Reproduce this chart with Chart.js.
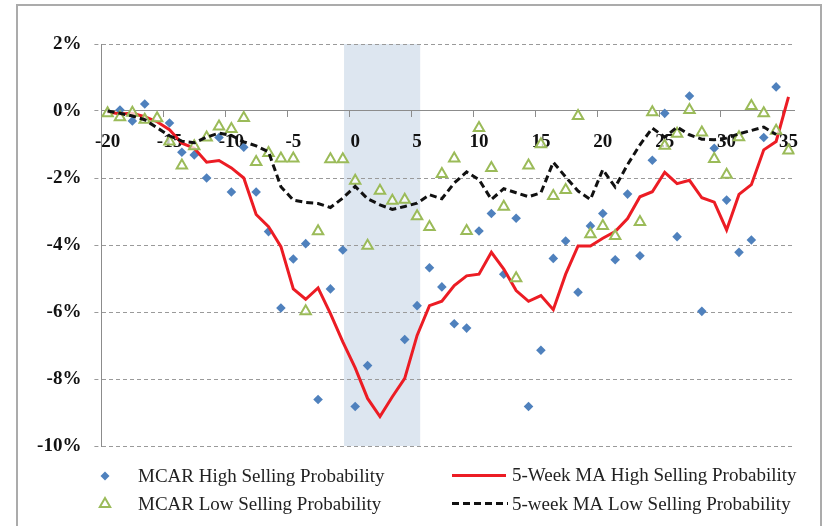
<!DOCTYPE html>
<html>
<head>
<meta charset="utf-8">
<script src="https://cdn.jsdelivr.net/npm/chart.js@4.4.1/dist/chart.umd.min.js"></script>
<style>
  html, body { margin: 0; padding: 0; background: #fff; }
  #wrap { width: 823px; height: 526px; }
</style>
</head>
<body>
<div id="wrap"><canvas id="myChart" width="823" height="526"></canvas></div>
<script>
// weeks relative to the event
const weeks = [-20, -19, -18, -17, -16, -15, -14, -13, -12, -11, -10, -9, -8, -7, -6, -5, -4, -3, -2, -1,
    0, 1, 2, 3, 4, 5, 6, 7, 8, 9, 10, 11, 12, 13, 14, 15, 16, 17, 18, 19,
    20, 21, 22, 23, 24, 25, 26, 27, 28, 29, 30, 31, 32, 33, 34, 35]

// values in %
const mcarHigh = [null, 0.03, -0.30, 0.21, null, -0.36, -1.23, -1.31, -2.00, -0.79, -2.42, -1.08, -2.42, -3.60, -5.88, -4.42, -3.96, -8.61, -5.31, -4.15,
    -8.82, -7.60, null, null, -6.82, -5.81, -4.68, -5.25, -6.35, -6.48, -3.58, -3.06, -4.87, -3.20, -8.82, -7.14, -4.40, -3.88, -5.41, -3.43,
    -3.06, -4.44, -2.48, -4.32, -1.47, -0.07, -3.75, 0.45, -5.98, -1.11, -2.66, -4.22, -3.85, -0.79, 0.72, null]

const mcarLow = [-0.07, -0.19, -0.05, -0.26, -0.22, -0.91, -1.63, -1.05, -0.79, -0.46, -0.54, -0.21, -1.52, -1.25, -1.42, -1.42, -5.98, -3.59, -1.44, -1.44,
    -2.08, -4.02, -2.38, -2.68, -2.65, -3.14, -3.46, -1.88, -1.42, -3.58, -0.51, -1.70, -2.86, -4.99, -1.63, -0.99, -2.54, -2.36, -0.15, -3.68,
    -3.43, -3.73, null, -3.31, -0.04, -1.04, -0.68, 0.03, -0.64, -1.43, -1.90, -0.78, 0.15, -0.07, -0.59, -1.18]

const maHigh = [-0.02, -0.09, -0.07, -0.17, -0.32, -0.56, -0.96, -1.11, -1.53, -1.48, -1.70, -2.00, -3.09, -3.45, -4.05, -5.31, -5.62, -5.28, -6.05, -6.89,
    -7.67, -8.58, -9.12, -8.53, -7.98, -6.70, -5.81, -5.68, -5.21, -4.92, -4.87, -4.22, -4.72, -5.36, -5.68, -5.51, -5.93, -4.87, -4.03, -4.03,
    -3.80, -3.60, -3.21, -2.56, -2.41, -1.83, -2.17, -2.07, -2.59, -2.72, -3.55, -2.49, -2.20, -1.16, -0.91, 0.42]

const maLow = [0.00, -0.07, -0.15, -0.26, -0.50, -0.74, -0.90, -0.95, -0.78, -0.66, -0.73, -0.92, -1.04, -1.22, -2.26, -2.66, -2.73, -2.76, -2.88, -2.60,
    -2.25, -2.62, -2.80, -2.94, -2.85, -2.75, -2.50, -2.62, -2.15, -1.82, -2.05, -2.64, -2.32, -2.44, -2.56, -2.44, -1.53, -1.97, -2.39, -2.64,
    -1.75, -2.27, -1.60, -1.01, -0.51, -0.78, -0.48, -0.71, -0.84, -0.86, -0.81, -0.68, -0.58, -0.48, -0.70, null]

const xTicks = [-20, -15, -10, -5, 0, 5, 10, 15, 20, 25, 30, 35]
const yTicks = [2, 0, -2, -4, -6, -8, -10]

// shaded event window (weeks)
const eventStart = -0.9
const eventEnd = 5.25

const seriesNames = ['MCAR High Selling Probability', '5-Week MA High Selling Probability',
    'MCAR Low Selling Probability', '5-week MA Low Selling Probability']

const toPoints = (values) => weeks.map((w, i) => ({ x: w, y: values[i] }))

const serif = "'Liberation Serif', 'Times New Roman', serif"

const framePlugin = {
    id: 'frame',
    beforeDraw: (chart) => {
        let ctx = chart.ctx
        let area = chart.chartArea
        let xs = chart.scales.x
        ctx.save()
        ctx.fillStyle = '#fff'
        ctx.fillRect(0, 0, chart.width, chart.height)
        ctx.strokeStyle = '#ababab'
        ctx.lineWidth = 2
        ctx.strokeRect(17, 5, 804, 560)
        let x1 = xs.getPixelForValue(eventStart)
        let x2 = xs.getPixelForValue(eventEnd)
        ctx.fillStyle = '#dde6f0'
        ctx.fillRect(x1, area.top, x2 - x1, area.bottom - area.top)
        ctx.restore()
    }
}

const tickMarkPlugin = {
    id: 'tickMarks',
    beforeDatasetsDraw: (chart) => {
        let ctx = chart.ctx
        let xs = chart.scales.x
        let y0 = chart.scales.y.getPixelForValue(0)
        ctx.save()
        ctx.strokeStyle = '#8c8c8c'
        ctx.lineWidth = 1
        ctx.beginPath()
        xTicks.forEach(v => {
            let px = Math.round(xs.getPixelForValue(v - 0.5)) + 0.5
            ctx.moveTo(px, y0)
            ctx.lineTo(px, y0 + 6)
        })
        ctx.stroke()
        ctx.restore()
    }
}

const legendPlugin = {
    id: 'customLegend',
    afterDraw: (chart) => {
        let ctx = chart.ctx
        ctx.save()
        // blue diamond
        ctx.fillStyle = '#4f81bd'
        ctx.beginPath()
        ctx.moveTo(105, 471.5)
        ctx.lineTo(109.5, 476)
        ctx.lineTo(105, 480.5)
        ctx.lineTo(100.5, 476)
        ctx.closePath()
        ctx.fill()
        // green triangle
        ctx.strokeStyle = '#9bbb59'
        ctx.fillStyle = 'rgba(255,255,255,0.8)'
        ctx.lineWidth = 2
        ctx.beginPath()
        ctx.moveTo(105, 498)
        ctx.lineTo(110.2, 507)
        ctx.lineTo(99.8, 507)
        ctx.closePath()
        ctx.fill()
        ctx.stroke()
        // red line
        ctx.strokeStyle = '#ec1c24'
        ctx.lineWidth = 3
        ctx.beginPath()
        ctx.moveTo(452, 475.5)
        ctx.lineTo(506, 475.5)
        ctx.stroke()
        // black dashed
        ctx.strokeStyle = '#111'
        ctx.setLineDash([7, 4])
        ctx.beginPath()
        ctx.moveTo(452, 503.5)
        ctx.lineTo(508, 503.5)
        ctx.stroke()
        ctx.setLineDash([])
        // labels
        ctx.fillStyle = '#222'
        ctx.font = '19px ' + serif
        ctx.textBaseline = 'alphabetic'
        ctx.textAlign = 'left'
        ctx.fillText(seriesNames[0], 138, 482)
        ctx.fillText(seriesNames[2], 138, 510)
        ctx.fillText(seriesNames[1], 512, 481)
        ctx.fillText(seriesNames[3], 512, 509.5)
        ctx.restore()
    }
}

let ctx = document.getElementById('myChart')

let cfg = {
    type: 'line',
    data: {
        datasets: [
            {
                label: seriesNames[0],
                data: toPoints(mcarHigh),
                showLine: false,
                pointStyle: 'rectRot',
                pointRadius: 4.8,
                pointBackgroundColor: '#4f81bd',
                pointBorderColor: '#4f81bd',
                pointBorderWidth: 0,
                order: 3
            },
            {
                label: seriesNames[1],
                data: toPoints(maHigh),
                borderColor: '#ec1c24',
                borderWidth: 3,
                pointRadius: 0,
                tension: 0,
                order: 2
            },
            {
                label: seriesNames[2],
                data: toPoints(mcarLow),
                showLine: false,
                pointStyle: 'triangle',
                pointRadius: 6,
                pointBackgroundColor: 'rgba(255,255,255,0.75)',
                pointBorderColor: '#9bbb59',
                pointBorderWidth: 2,
                order: 1
            },
            {
                label: seriesNames[3],
                data: toPoints(maLow),
                borderColor: '#111',
                borderWidth: 3,
                borderDash: [7, 4],
                pointRadius: 0,
                tension: 0,
                order: 0
            }
        ]
    },
    options: {
        responsive: false,
        animation: false,
        layout: {
            padding: { left: 0, top: 44, right: 28.3, bottom: 80 }
        },
        plugins: {
            legend: { display: false },
            tooltip: { enabled: false }
        },
        scales: {
            x: {
                type: 'linear',
                min: -20.5,
                max: 35.5,
                position: { y: 0 },
                afterBuildTicks: (scale) => {
                    scale.ticks = xTicks.map(v => ({ value: v }))
                },
                grid: { display: false },
                border: { display: true, color: '#8c8c8c', width: 1 },
                ticks: {
                    autoSkip: false,
                    maxRotation: 0,
                    padding: 12,
                    color: '#111',
                    font: { family: serif, size: 19, weight: 'bold' },
                    callback: (value) => String(value)
                }
            },
            y: {
                min: -10,
                max: 2,
                afterFit: (scale) => {
                    scale.width = 101.4
                },
                afterBuildTicks: (scale) => {
                    scale.ticks = yTicks.map(v => ({ value: v }))
                },
                grid: {
                    color: '#9a9a9a',
                    lineWidth: 1,
                    tickLength: 7,
                    tickColor: '#9a9a9a',
                    tickBorderDash: [4, 3]
                },
                border: { display: true, color: '#8c8c8c', width: 1, dash: [4, 3] },
                ticks: {
                    padding: 13,
                    color: '#111',
                    font: { family: serif, size: 19, weight: 'bold' },
                    callback: (value) => value + '%'
                }
            }
        }
    },
    plugins: [framePlugin, tickMarkPlugin, legendPlugin]
}

let myChart = new Chart(ctx, cfg)
</script>
</body>
</html>
